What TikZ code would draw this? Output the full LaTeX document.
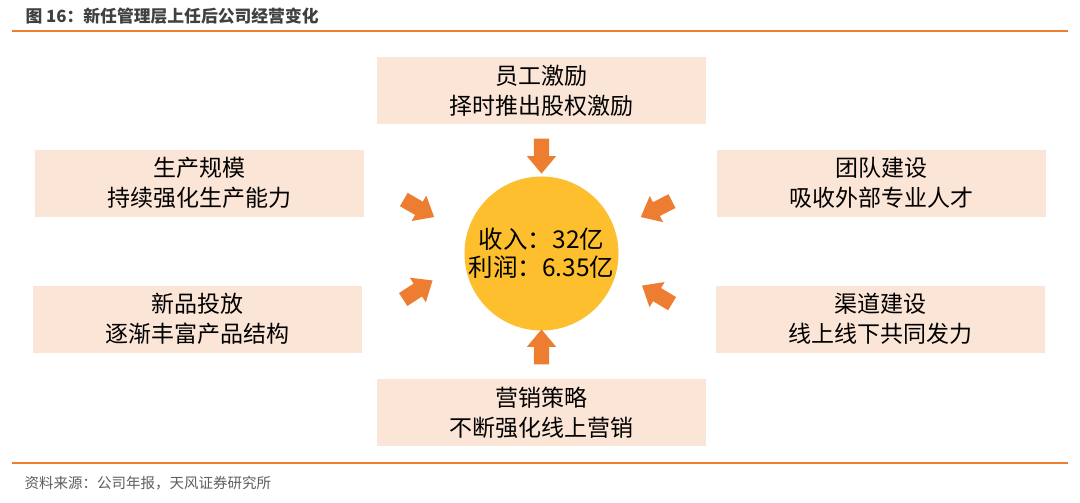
\documentclass[tikz,border=0pt]{standalone}
\usepackage{fontspec}
\setmainfont{Noto Sans CJK SC}
\usetikzlibrary{shapes.arrows}
\definecolor{boxfill}{HTML}{FBE5D6}
\definecolor{arroworange}{HTML}{ED7D31}
\definecolor{sunfill}{HTML}{FDBF2D}
\definecolor{titlegray}{HTML}{404040}
\begin{document}
\begin{tikzpicture}[x=1pt,y=-1pt]
	\useasboundingbox (0,0) rectangle (1080,503);
	% title and rules
	\node[anchor=west,text=titlegray,font=\bfseries\fontsize{16.8}{18}\selectfont] (title) at (22,16) {图 16：新任管理层上任后公司经营变化};
	\draw[arroworange,line width=1.5pt] (12,31) -- (1068,31);
	\draw[arroworange,line width=1.2pt] (12,463) -- (1068,463);
	\node[anchor=west,text=titlegray!85,font=\fontsize{14.5}{16}\selectfont] (source) at (21,483) {资料来源：公司年报，天风证券研究所};
	
	\begin{scope}[every node/.style={fill=boxfill,minimum width=329pt,minimum height=67pt,align=center,inner sep=0pt,font=\fontsize{23}{30}\selectfont}]
		\node (staff) at (541.5,90.5) {员工激励\\择时推出股权激励};
		\node (scale) at (199.5,183) {生产规模\\持续强化生产能力};
		\node (team) at (881.5,183) {团队建设\\吸收外部专业人才};
		\node (product) at (197.5,319) {新品投放\\逐渐丰富产品结构};
		\node (channel) at (880.5,319) {渠道建设\\线上线下共同发力};
		\node (market) at (541.5,412.5) {营销策略\\不断强化线上营销};
	\end{scope}
	
	\node[circle,fill=sunfill,minimum size=151pt,inner sep=0pt,align=center,font=\fontsize{24.5}{28}\selectfont] (core) at (541.5,253.5) {收入：32亿\\利润：6.35亿};
	
	\begin{scope}[every node/.style={single arrow,fill=arroworange,inner sep=0pt,text height=7.5pt,text depth=7.5pt,minimum height=35pt,single arrow head extend=7pt,single arrow head indent=0pt,single arrow tip angle=80}]
		\node[rotate=-90] (a1) at (541.5,151.5) {};
		\node[rotate=90] (a2) at (541.5,351.5) {};
		\node[rotate=-30] (a3) at (415,206) {};
		\node[rotate=33] (a4) at (414,292.5) {};
		\node[rotate=-153] (a5) at (660.5,207) {};
		\node[rotate=149] (a6) at (661,297) {};
	\end{scope}
\end{tikzpicture}
\end{document}
